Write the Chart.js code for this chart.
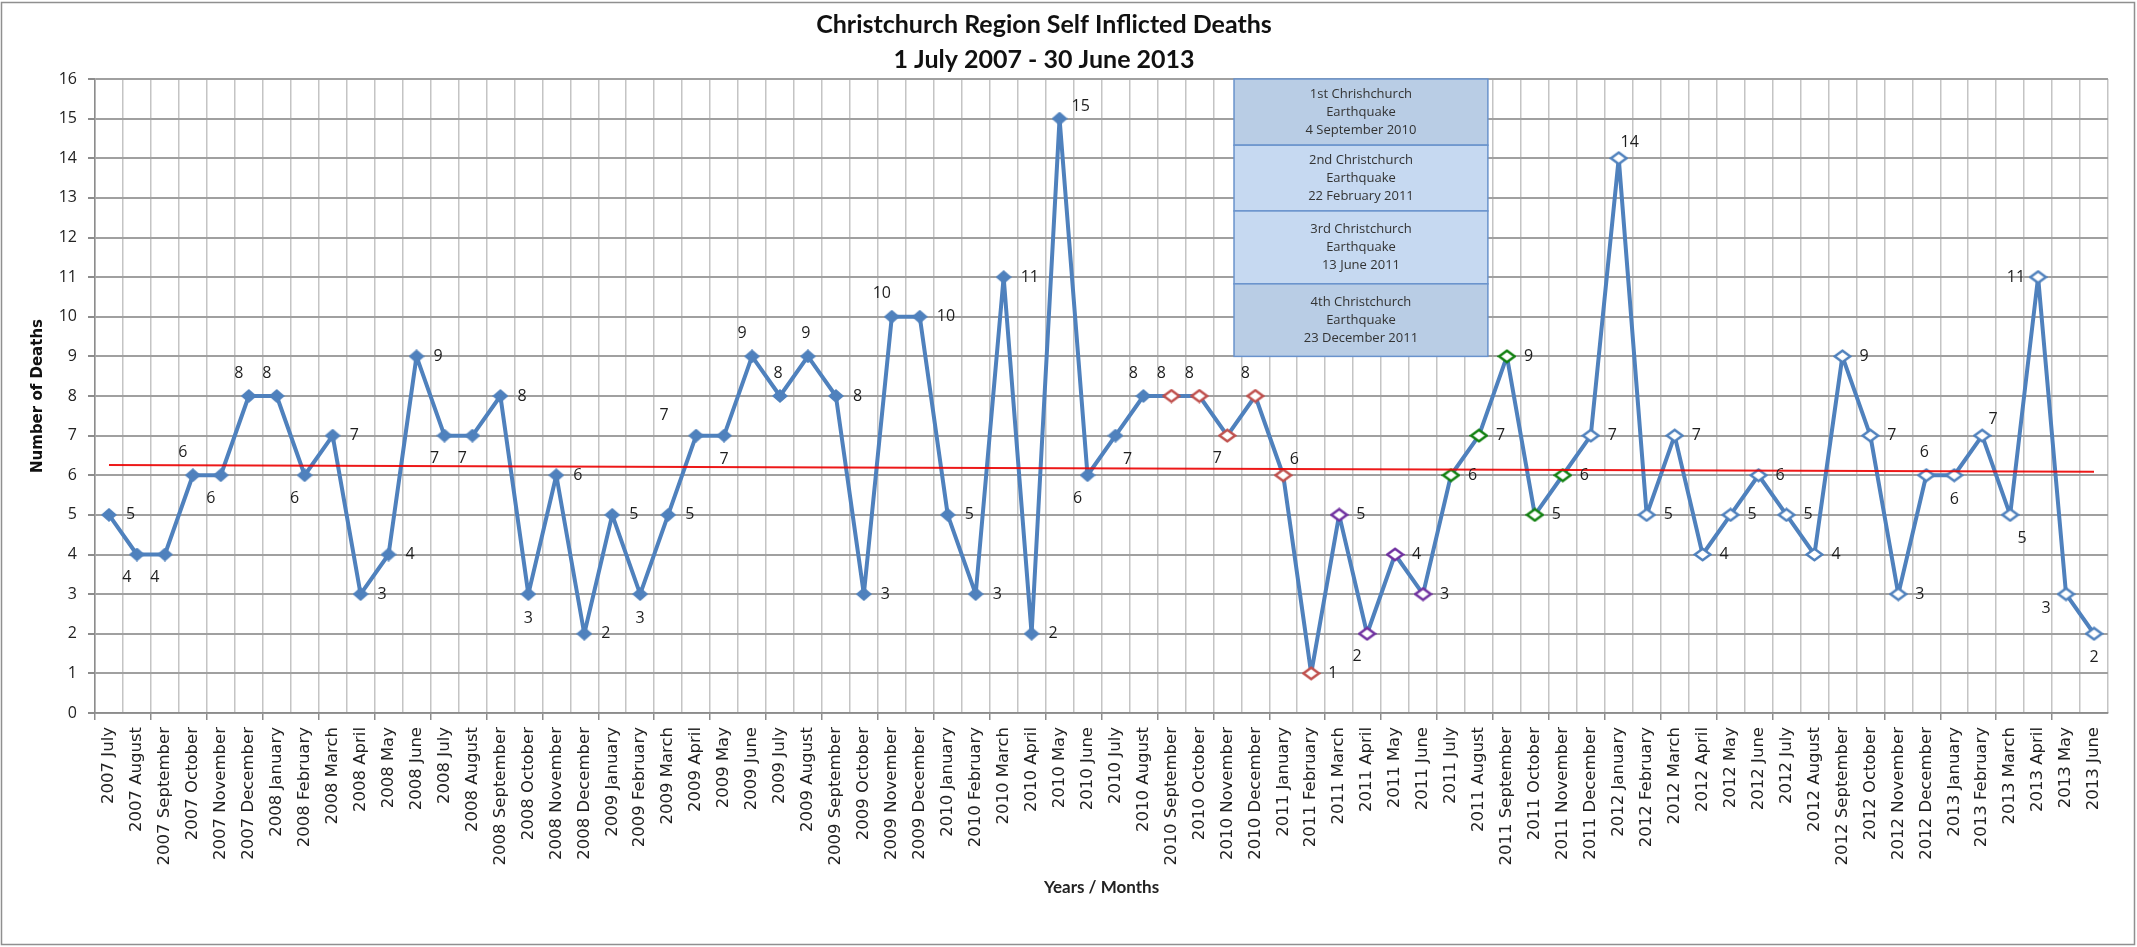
<!DOCTYPE html>
<html>
<head>
<meta charset="utf-8">
<title>Christchurch Region Self Inflicted Deaths</title>
<script src="https://cdn.jsdelivr.net/npm/chart.js@4.4.1/dist/chart.umd.min.js"></script>
<style>
  html, body { margin: 0; padding: 0; background: #fff; }
  #wrap { width: 2137px; height: 947px; }
</style>
</head>
<body>
<div id="wrap"><canvas id="chart" width="2137" height="947"></canvas></div>
<script>
// months July 2007 - June 2013
const months = [
  '2007 July', '2007 August', '2007 September', '2007 October', '2007 November', '2007 December',
  '2008 January', '2008 February', '2008 March', '2008 April', '2008 May', '2008 June',
  '2008 July', '2008 August', '2008 September', '2008 October', '2008 November', '2008 December',
  '2009 January', '2009 February', '2009 March', '2009 April', '2009 May', '2009 June',
  '2009 July', '2009 August', '2009 September', '2009 October', '2009 November', '2009 December',
  '2010 January', '2010 February', '2010 March', '2010 April', '2010 May', '2010 June',
  '2010 July', '2010 August', '2010 September', '2010 October', '2010 November', '2010 December',
  '2011 January', '2011 February', '2011 March', '2011 April', '2011 May', '2011 June',
  '2011 July', '2011 August', '2011 September', '2011 October', '2011 November', '2011 December',
  '2012 January', '2012 February', '2012 March', '2012 April', '2012 May', '2012 June',
  '2012 July', '2012 August', '2012 September', '2012 October', '2012 November', '2012 December',
  '2013 January', '2013 February', '2013 March', '2013 April', '2013 May', '2013 June'
];

const deaths = [
  5, 4, 4, 6, 6, 8,
  8, 6, 7, 3, 4, 9, 7, 7, 8, 3, 6, 2,
  5, 3, 5, 7, 7, 9, 8, 9, 8, 3, 10, 10,
  5, 3, 11, 2, 15, 6, 7, 8, 8, 8, 7, 8,
  6, 1, 5, 2, 4, 3, 6, 7, 9, 5, 6, 7,
  14, 5, 7, 4, 5, 6, 5, 4, 9, 7, 3, 6,
  6, 7, 5, 11, 3, 2
];

// linear trend line, read at its two ends
const trendStart = 6.26;
const trendEnd = 6.09;

const yTicks = [0, 16];

const quakeNotes = [
  ['1st Chrishchurch', 'Earthquake', '4 September 2010'],
  ['2nd Christchurch', 'Earthquake', '22 February 2011'],
  ['3rd Christchurch', 'Earthquake', '13 June 2011'],
  ['4th Christchurch', 'Earthquake', '23 December 2011']
];

// marker colour after each quake
const quakePeriods = [
  { from: '2010 September', to: '2011 February', color: '#C0504D' },
  { from: '2011 March', to: '2011 June', color: '#7030A0' },
  { from: '2011 July', to: '2011 November', color: '#10800F' },
  { from: '2011 December', to: '2013 June', color: '#4F81BD' }
];

// where each value label sits next to its point
const labelSpots = [
  'r', 'b', 'b', 'a', 'b', 'a',
  'a', 'b', 'r', 'r', 'r', 'r', 'b', 'b', 'r', 'bc', 'r', 'r',
  'r', 'bc', 'r', 'al', 'bc', 'a', 'ac', 'ac', 'r', 'r', 'a', 'r',
  'r', 'r', 'r', 'r', 'ru', 'b', 'br', 'a', 'a', 'a', 'b', 'a',
  'ar', 'r', 'r', 'b', 'r', 'r', 'r', 'r', 'r', 'r', 'r', 'r',
  'ar', 'r', 'r', 'r', 'r', 'r', 'r', 'r', 'r', 'r', 'r', 'ac',
  'bc', 'ar', 'br', 'l', 'bl', 'bc'
];

const spotOffsets = {
  r:  { align: 'left',   dx: 17,  dy: 0 },
  ru: { align: 'left',   dx: 12,  dy: -12 },
  l:  { align: 'right',  dx: -13, dy: 0 },
  a:  { align: 'center', dx: -10, dy: -23 },
  ac: { align: 'center', dx: -2,  dy: -23 },
  ar: { align: 'center', dx: 11,  dy: -16 },
  al: { align: 'center', dx: -32, dy: -20 },
  b:  { align: 'center', dx: -10, dy: 23 },
  bc: { align: 'center', dx: 0,   dy: 24 },
  br: { align: 'center', dx: 12,  dy: 24 },
  bl: { align: 'center', dx: -20, dy: 14 }
};

const BLUE = '#4F81BD';

function makeDiamond(w, h, fill, stroke, lw) {
  const c = document.createElement('canvas');
  c.width = w;
  c.height = h;
  const g = c.getContext('2d');
  const p = lw ? lw / 2 + 0.5 : 0;
  g.beginPath();
  g.moveTo(w / 2, p);
  g.lineTo(w - p, h / 2);
  g.lineTo(w / 2, h - p);
  g.lineTo(p, h / 2);
  g.closePath();
  g.fillStyle = fill;
  g.fill();
  if (lw) {
    g.lineWidth = lw;
    g.strokeStyle = stroke;
    g.stroke();
  }
  return c;
}

const filledMarker = makeDiamond(16, 14, BLUE, null, 0);
const hollowMarkers = quakePeriods.map(p => ({
  from: months.indexOf(p.from),
  to: months.indexOf(p.to),
  img: makeDiamond(19, 15, '#ffffff', p.color, 2.5)
}));

function markerFor(i) {
  const hit = hollowMarkers.find(m => i >= m.from && i <= m.to);
  return hit ? hit.img : filledMarker;
}

const chartDecor = {
  id: 'chartDecor',
  beforeDraw(chart) {
    const ctx = chart.ctx;
    ctx.save();
    ctx.fillStyle = '#ffffff';
    ctx.fillRect(0, 0, chart.width, chart.height);
    ctx.restore();
  },
  afterDatasetsDraw(chart) {
    const ctx = chart.ctx;
    const meta = chart.getDatasetMeta(1);
    ctx.save();
    ctx.font = '16px "Open Sans"';
    ctx.fillStyle = '#1e1e1e';
    ctx.textBaseline = 'middle';
    meta.data.forEach((pt, i) => {
      const o = spotOffsets[labelSpots[i]] || spotOffsets.r;
      ctx.textAlign = o.align;
      ctx.fillText(String(deaths[i]), pt.x + o.dx, pt.y + o.dy);
    });
    ctx.restore();
  },
  afterDraw(chart) {
    const ctx = chart.ctx;
    const xs = chart.scales.x;
    const ys = chart.scales.y;
    ctx.save();

    // title
    ctx.fillStyle = '#111';
    ctx.textAlign = 'center';
    ctx.textBaseline = 'alphabetic';
    ctx.font = 'bold 25px Lato';
    ctx.fillText('Christchurch Region Self Inflicted Deaths', 1044, 33);
    ctx.fillText('1 July 2007 - 30 June 2013', 1044, 68);

    // earthquake notes
    const left = xs.getPixelForValue(40.24);
    const right = xs.getPixelForValue(49.32);
    const edges = [16, 14.33, 12.67, 10.83, 9].map(v => ys.getPixelForValue(v));
    quakeNotes.forEach((lines, k) => {
      const top = edges[k];
      const bottom = edges[k + 1];
      ctx.fillStyle = (k === 0 || k === 3) ? '#B9CDE5' : '#C6D9F1';
      ctx.fillRect(left, top, right - left, bottom - top);
      ctx.strokeStyle = '#6A93CC';
      ctx.lineWidth = 1.5;
      ctx.strokeRect(left, top, right - left, bottom - top);
      ctx.fillStyle = '#333';
      ctx.font = '13px "Open Sans"';
      ctx.textBaseline = 'middle';
      const mid = (top + bottom) / 2;
      lines.forEach((t, j) => ctx.fillText(t, (left + right) / 2, mid + (j - 1) * 18));
    });

    // chart frame
    ctx.strokeStyle = '#8f8f8f';
    ctx.lineWidth = 1.5;
    ctx.strokeRect(1.5, 2.5, 2133, 942);
    ctx.restore();
  }
};

new Chart(document.getElementById('chart'), {
  type: 'line',
  data: {
    labels: months,
    datasets: [
      {
        label: 'Linear trend',
        data: months.map((m, i) => i === 0 ? trendStart : (i === months.length - 1 ? trendEnd : null)),
        spanGaps: true,
        borderColor: 'rgba(235, 0, 0, 0.9)',
        borderWidth: 2,
        pointRadius: 0,
        fill: false
      },
      {
        label: 'Self inflicted deaths',
        data: deaths,
        borderColor: BLUE,
        borderWidth: 4,
        borderJoinStyle: 'bevel',
        tension: 0,
        fill: false,
        pointRadius: 7,
        pointStyle: ctx => markerFor(ctx.dataIndex)
      }
    ]
  },
  options: {
    responsive: false,
    animation: false,
    events: [],
    layout: { padding: { top: 79, right: 29, bottom: 0, left: 0 } },
    plugins: {
      legend: { display: false },
      tooltip: { enabled: false },
      title: { display: false }
    },
    scales: {
      x: {
        offset: true,
        afterFit(scale) { scale.height = 234; },
        grid: {
          offset: true,
          color: '#c4c4c4',
          lineWidth: 1.5,
          tickLength: 7,
          tickColor: ctx => ctx.index % 2 === 0 ? '#8c8c8c' : 'rgba(0,0,0,0)'
        },
        border: { color: '#8c8c8c', width: 1.5 },
        ticks: {
          autoSkip: false,
          minRotation: 90,
          maxRotation: 90,
          padding: 7,
          color: '#222',
          font: { family: 'DejaVu Sans', size: 16.5 }
        },
        title: {
          display: true,
          text: 'Years / Months',
          color: '#222',
          font: { family: 'Lato', size: 17, weight: 'bold' },
          padding: { top: 0, bottom: 49 }
        }
      },
      y: {
        min: yTicks[0],
        max: yTicks[1],
        afterFit(scale) { scale.width = 95; },
        grid: { color: '#a0a0a0', lineWidth: 2, tickLength: 7, tickColor: '#8c8c8c' },
        border: { color: '#8c8c8c', width: 1.5 },
        ticks: {
          stepSize: 1,
          padding: 11,
          color: '#222',
          font: { family: 'Open Sans', size: 16 }
        },
        title: {
          display: true,
          text: 'Number of Deaths',
          color: '#111',
          font: { family: 'DejaVu Sans', size: 15, weight: 'bold' },
          padding: { top: 29, bottom: 0 }
        }
      }
    }
  },
  plugins: [chartDecor]
});
</script>
</body>
</html>
